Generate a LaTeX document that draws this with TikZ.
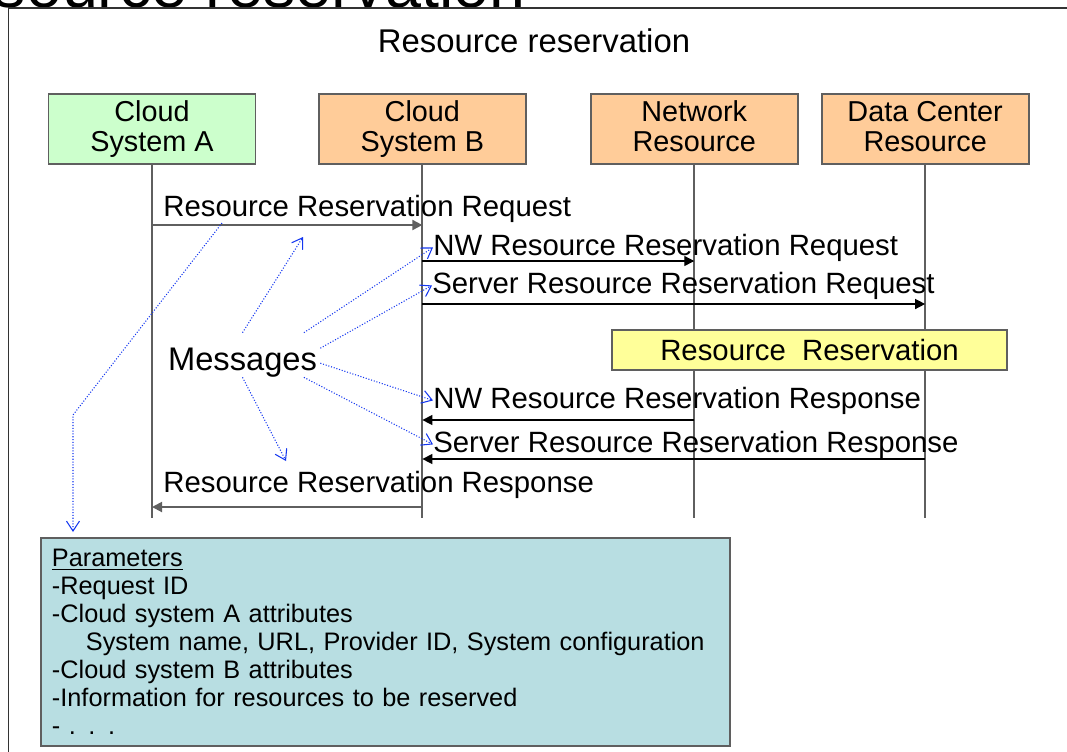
\documentclass[tikz,border=0pt]{standalone}
\usepackage{fontspec}
\setmainfont{Liberation Sans}
\usetikzlibrary{arrows.meta,positioning,calc}

\definecolor{headA}{HTML}{CCFFCC}
\definecolor{headB}{HTML}{FFCC99}
\definecolor{resvfill}{HTML}{FFFF99}
\definecolor{parfill}{RGB}{184,222,226}
\definecolor{edgegray}{HTML}{5F5F5F}
\definecolor{noteblue}{RGB}{20,55,240}

\tikzset{
  head/.style={draw=edgegray,line width=1.1pt,minimum width=4.14cm,minimum height=1.4cm,text depth=0.12cm,align=center,font=\fontsize{16.4}{17}\selectfont},
  life/.style={draw=edgegray,line width=1.1pt},
  lbl/.style={inner sep=0pt,anchor=base west,font=\fontsize{16.7}{19}\selectfont},
  call/.style={draw=edgegray,line width=1.1pt,-{Triangle[length=0.2cm,width=0.2cm]}},
  sub/.style={draw=black,line width=0.8pt,-{Triangle[length=0.2cm,width=0.2cm]}},
  note/.style={draw=noteblue,line width=0.6pt,densely dotted,-{Straight Barb[length=0.2cm,width=0.26cm]}},
}

\begin{document}
\begin{tikzpicture}[x=0.02cm,y=-0.02cm]
  \useasboundingbox (0,0) rectangle (1067,751);
  \clip (0,0) rectangle (1067,751);

  % slide title (cut off) and frame
  \node[inner sep=0pt,anchor=base east,font=\fontsize{36.8}{40}\selectfont] (slide) at (526,7) {Resource reservation};
  \draw[line width=1.1pt,draw=black!80] (1080,8) -| (8.5,760);

  \node[anchor=base,font=\fontsize{18.7}{21}\selectfont] (title) at (534,52) {Resource reservation};

  % lifeline heads
  \node[head,fill=headA] (A) at (152,129) {Cloud\\System A};
  \node[head,fill=headB,right=1.23cm of A] (B) {Cloud\\System B};
  \node[head,fill=headB,right=1.26cm of B] (nw) {Network\\Resource};
  \node[head,fill=headB,right=0.44cm of nw] (dc) {Data Center\\Resource};

  \coordinate (bot) at (0,518);
  \foreach \n in {A,B,nw,dc}
    \draw[life] (\n.south) -- (\n.south |- bot);

  % messages
  \coordinate (m1) at (0,225);
  \coordinate (m2) at (0,261);
  \coordinate (m3) at (0,304);
  \coordinate (m5) at (0,420);
  \coordinate (m6) at (0,459);
  \coordinate (m7) at (0,507);
  \draw[call] (A |- m1) -- (B |- m1);
  \draw[sub] (B |- m2) -- (nw |- m2);
  \draw[sub] (B |- m3) -- (dc |- m3);
  \draw[sub] (nw |- m5) -- (B |- m5);
  \draw[sub] (dc |- m6) -- (B |- m6);
  \draw[call] (B |- m7) -- (A |- m7);

  \node[lbl] (l1) at (163,216) {Resource Reservation Request};
  \node[lbl] (l2) at (433,255) {NW Resource Reservation Request};
  \node[lbl] (l3) at (432,293) {Server Resource Reservation Request};
  \node[lbl] (l5) at (433,408) {NW Resource Reservation Response};
  \node[lbl] (l6) at (433,452) {Server Resource Reservation Response};
  \node[lbl] (l7) at (163,492) {Resource Reservation Response};

  \node[draw=edgegray,line width=0.8pt,fill=resvfill,minimum width=7.9cm,minimum height=0.8cm,font=\fontsize{16.7}{19}\selectfont] (resv) at (809.5,350) {Resource\ \ Reservation};

  % callout
  \node[inner sep=0pt,minimum width=3.1cm,minimum height=0.88cm,text height=0.6cm,text depth=0pt,font=\fontsize{18.6}{21}\selectfont] (msg) at (242.5,355) {Messages};
  \coordinate (t1) at (303,237);
  \coordinate (t7) at (286,461);
  \draw[note] (msg.north) -- (t1);
  \draw[note] (msg.20) -- (l2.west);
  \draw[note] (msg.5) -- (l3.west);
  \draw[note] (msg.-6) -- (l5.west);
  \draw[note] (msg.-20) -- (l6.west);
  \draw[note] (msg.south) -- (t7);

  \node[draw=edgegray,line width=1.1pt,fill=parfill,anchor=north west,minimum width=13.78cm,minimum height=4.16cm,text width=13.34cm,inner xsep=0.22cm,align=left,font=\fontsize{14.4}{15.9}\selectfont] (prm) at (40,537)
    {\underline{Parameters}\\
     -Request ID\\
     -Cloud system A attributes\\
     \hspace*{0.68cm}System name, URL, Provider ID, System configuration\\
     -Cloud system B attributes\\
     -Information for resources to be reserved\\
     - . . .};

  \coordinate (p0) at (222,223);
  \coordinate (bend) at (73,415);
  \draw[note,shorten >=0.1cm] (p0) -- (bend) -- (bend |- prm.north);
\end{tikzpicture}
\end{document}
